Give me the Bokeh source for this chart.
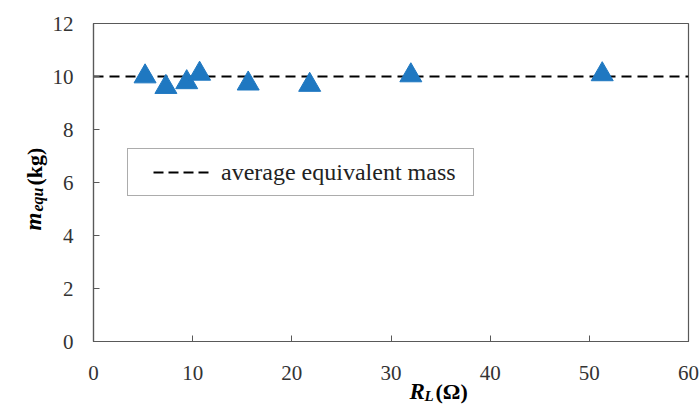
import math
from bokeh.plotting import figure
from bokeh.models import Range1d, Label, Legend, LegendItem, FixedTicker, ColumnDataSource
from bokeh.embed import file_html
from bokeh.resources import INLINE

# data
r_load = [5.2, 7.3, 9.4, 10.7, 15.6, 21.8, 32.0, 51.3]
m_equ = [10.0, 9.6, 9.78, 10.1, 9.73, 9.68, 10.04, 10.08]
avg_mass = 10.0
x_ticks = [0, 10, 20, 30, 40, 50, 60]
y_ticks = [0, 2, 4, 6, 8, 10, 12]

FONT = "Liberation Serif"
BLUE = "#1F78C1"
GREY = "#595959"

W, H = 700, 405
BL, BR, BT, BB = 93, 12, 23, 64

p = figure(width=W, height=H, output_backend="svg", toolbar_location=None,
           x_range=Range1d(0, 60), y_range=Range1d(0, 12),
           min_border_left=BL, min_border_right=BR, min_border_top=BT, min_border_bottom=BB)
p.xgrid.visible = False
p.ygrid.visible = False
p.outline_line_color = GREY
p.outline_line_width = 1.2
p.background_fill_color = "white"
p.border_fill_color = "white"

for ax, ticks in ((p.xaxis, x_ticks), (p.yaxis, y_ticks)):
    ax.ticker = FixedTicker(ticks=ticks)
    ax.axis_line_color = GREY
    ax.axis_line_width = 1.2
    ax.major_tick_line_color = GREY
    ax.major_tick_in = 6
    ax.major_tick_out = 0
    ax.minor_tick_line_color = None
    ax.major_label_text_font = FONT
    ax.major_label_text_font_size = "21px"
    ax.major_label_text_color = "#333333"
p.xaxis.major_label_standoff = 24
p.yaxis.major_label_standoff = 20

# average line
src_avg = ColumnDataSource(dict(x=[x_ticks[0], x_ticks[-1]], y=[avg_mass, avg_mass]))
p.line("x", "y", source=src_avg, line_color="black", line_width=2, line_dash="10 6")

# legend sample line: a single point draws nothing, only its style appears in the legend
legend_line = p.line(x=[x_ticks[0]], y=[avg_mass], line_color="black", line_width=2,
                     line_dash="10 5 10 5 10 5 10 21", line_dash_offset=60)

src = ColumnDataSource(dict(x=r_load, y=m_equ))
p.scatter("x", "y", source=src, marker="triangle", size=22, fill_color=BLUE, line_color=BLUE)

legend = Legend(items=[LegendItem(label="average equivalent mass", renderers=[legend_line])],
                location=(34, 145), padding=9, glyph_width=72, glyph_height=28,
                label_height=28, label_width=243, label_standoff=12,
                label_text_font=FONT, label_text_font_size="24px", label_text_color="#222222",
                border_line_color=GREY, border_line_width=1.2, background_fill_alpha=1.0)
p.add_layout(legend, "center")

# transparent overlay canvas (pixel coordinates) for the rich axis titles
ov = figure(width=W, height=H, output_backend="svg", toolbar_location=None,
            x_range=Range1d(0, W), y_range=Range1d(H, 0),
            min_border=0, min_border_left=0, min_border_right=0,
            min_border_top=0, min_border_bottom=0,
            x_axis_location=None, y_axis_location=None,
            background_fill_color=None, border_fill_color=None, outline_line_color=None,
            styles={"position": "absolute", "left": "0px", "top": "0px"})
ov.grid.visible = False

def lab(text, px, py, size, style, angle=0.0):
    ov.add_layout(Label(x=px, y=py, text=text, angle=angle, text_font=FONT,
                        text_font_size=size, text_font_style=style, text_color="black",
                        text_align="left", text_baseline="alphabetic"))

# y axis title: m_equ (kg)
lab("m", 33, 230, "23px", "bold italic", math.pi / 2)
lab("equ", 37, 211, "16px", "bold italic", math.pi / 2)
lab("(kg)", 34, 185, "22px", "bold", math.pi / 2)

# x axis title: R_L (Ω)
lab("R", 409, 391, "23px", "bold italic")
lab("L", 424, 395, "15px", "bold italic")
lab("(Ω)", 435, 391, "22px", "bold")

open("out.html", "w").write(file_html([p, ov], INLINE))
